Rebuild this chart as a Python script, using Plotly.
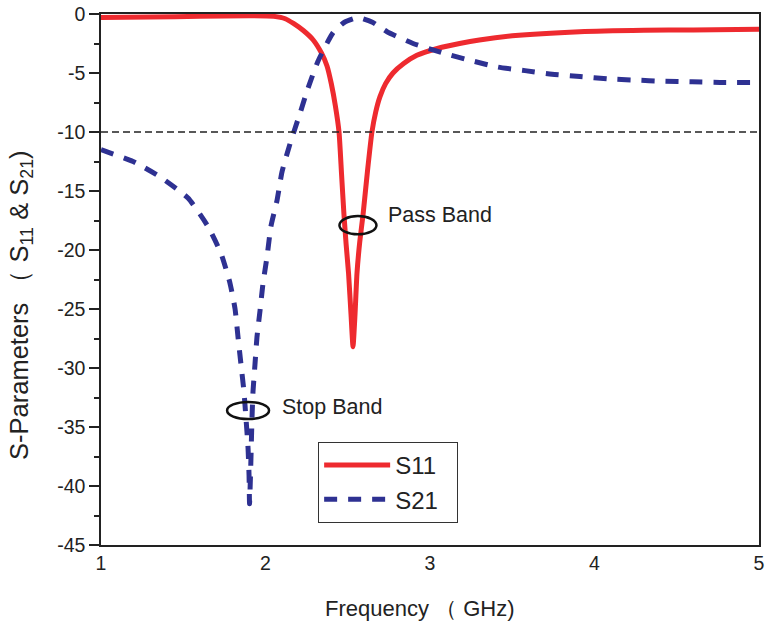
import plotly.graph_objects as go

# S11 (pass band) readings
s11_freq = [1.0, 1.3, 1.6, 1.9, 2.05, 2.12, 2.17, 2.23, 2.29, 2.34, 2.374, 2.40, 2.425, 2.447,
            2.462, 2.477, 2.49, 2.505, 2.52, 2.532, 2.544, 2.556, 2.573, 2.593, 2.62, 2.647,
            2.67, 2.696, 2.73, 2.775, 2.84, 2.92, 3.05, 3.18, 3.3, 3.5, 3.91, 4.3, 4.6, 5.0]
s11_db = [-0.3, -0.25, -0.2, -0.15, -0.2, -0.4, -0.8, -1.4, -2.2, -3.3, -4.4, -5.9, -7.8, -10.0,
          -13.5, -17.0, -19.5, -22.0, -25.5, -28.2, -25.5, -22.0, -19.3, -17.0, -13.3, -10.0,
          -8.3, -7.0, -5.9, -5.0, -4.2, -3.5, -2.9, -2.5, -2.2, -1.85, -1.5, -1.38, -1.35, -1.3]

# S21 (stop band) readings
s21_freq = [1.0, 1.195, 1.359, 1.529, 1.65, 1.73, 1.784, 1.815, 1.833, 1.851, 1.869, 1.881,
            1.894, 1.9, 1.903, 1.909, 1.918, 1.924, 1.936, 1.948, 1.967, 1.985, 2.009, 2.033,
            2.07, 2.1, 2.149, 2.21, 2.258, 2.319, 2.41, 2.48, 2.562, 2.65, 2.739, 2.897, 3.079,
            3.25, 3.413, 3.578, 3.742, 3.912, 4.082, 4.246, 4.416, 4.593, 4.763, 5.0]
s21_db = [-11.5, -12.5, -13.8, -15.6, -18.0, -20.3, -22.8, -25.0, -27.4, -29.7, -32.0, -34.2,
          -36.8, -39.1, -41.5, -39.0, -34.2, -32.0, -29.7, -27.4, -25.1, -22.8, -20.6, -18.0,
          -15.8, -13.4, -11.0, -8.4, -6.3, -4.0, -1.6, -0.7, -0.3, -0.7, -1.5, -2.5, -3.3,
          -3.95, -4.5, -4.8, -5.1, -5.3, -5.5, -5.6, -5.7, -5.75, -5.8, -5.8]

y_ticks = [0, -5, -10, -15, -20, -25, -30, -35, -40, -45]
y_tick_labels = ["0", "-5", "-10", "-15", "-20", "-25", "-30", "-35", "-40", "-45"]
x_ticks = [1, 2, 3, 4, 5]
x_tick_labels = ["1", "2", "3", "4", "5"]
threshold_db = -10

# annotation markers (data coords)
pass_center = (2.562, -17.9)
stop_center = (1.894, -33.6)
pass_label = (2.733, -17.0)
stop_label = (2.088, -33.3)

RED = "#EE2A2F"
BLUE = "#2E3192"
FONT = "Liberation Sans, Arial, sans-serif"

fig = go.Figure()
fig.add_trace(go.Scatter(x=s11_freq, y=s11_db, mode="lines", name="S11\u00a0\u00a0",
                         line=dict(color=RED, width=5, shape="spline", smoothing=0.5)))
fig.add_trace(go.Scatter(x=s21_freq, y=s21_db, mode="lines", name="S21\u00a0\u00a0",
                         line=dict(color=BLUE, width=5, dash="13px,11px", shape="spline",
                                   smoothing=0.5)))

fig.add_shape(type="line", xref="paper", x0=0, x1=1, yref="y", y0=threshold_db, y1=threshold_db,
              line=dict(color="#222", width=1.5, dash="7px,4px"))

for (cx, cy), w, h in [(pass_center, 0.225, 1.55), (stop_center, 0.255, 1.45)]:
    fig.add_shape(type="circle", xref="x", yref="y", x0=cx - w / 2, x1=cx + w / 2,
                  y0=cy - h / 2, y1=cy + h / 2, line=dict(color="#111", width=2.5))

fig.add_annotation(x=pass_label[0], y=pass_label[1], text="Pass Band", showarrow=False,
                   xanchor="left", yanchor="middle", font=dict(size=21.5, color="#222", family=FONT))
fig.add_annotation(x=stop_label[0], y=stop_label[1], text="Stop Band", showarrow=False,
                   xanchor="left", yanchor="middle", font=dict(size=21.5, color="#222", family=FONT))

# axis titles
fig.add_annotation(xref="paper", yref="paper", x=-0.1216, y=0.452, textangle=-90,
                   text="S-Parameters （ S<sub>11</sub> &amp; S<sub>21</sub>)", showarrow=False,
                   xanchor="center", yanchor="middle", font=dict(size=25.5, color="#222", family=FONT))
fig.add_annotation(xref="paper", yref="paper", x=0.485, y=-0.119,
                   text="Frequency （ GHz)", showarrow=False,
                   xanchor="center", yanchor="middle", font=dict(size=22, color="#222", family=FONT))

fig.update_layout(
    width=765, height=628,
    margin=dict(l=101, r=6, t=14, b=83),
    plot_bgcolor="white", paper_bgcolor="white",
    font=dict(family=FONT, size=19, color="#222"),
    legend=dict(x=0.33, y=0.194, xanchor="left", yanchor="top",
                bordercolor="#333", borderwidth=1, bgcolor="white",
                font=dict(size=24, family=FONT, color="#222"), itemwidth=66,
                tracegroupgap=4),
    showlegend=True,
)
fig.update_xaxes(range=[1, 5], tickvals=x_ticks, ticktext=x_tick_labels, ticks="",
                 showgrid=False, zeroline=False, automargin=False,
                 showline=True, linecolor="#222", linewidth=1.5, mirror=True,
                 tickfont=dict(size=19.5))
fig.update_yaxes(range=[-45, 0], tickvals=y_ticks, ticktext=y_tick_labels, ticks="outside",
                 ticklen=10, tickwidth=1.5, automargin=False,
                 tickcolor="#222", showgrid=False, zeroline=False,
                 showline=True, linecolor="#222", linewidth=1.5, mirror=True,
                 minor=dict(dtick=2.5, ticks="outside", ticklen=5, tickwidth=1.5, tickcolor="#222",
                            showgrid=False),
                 tickfont=dict(size=19.5))

fig.write_html("out.html")
